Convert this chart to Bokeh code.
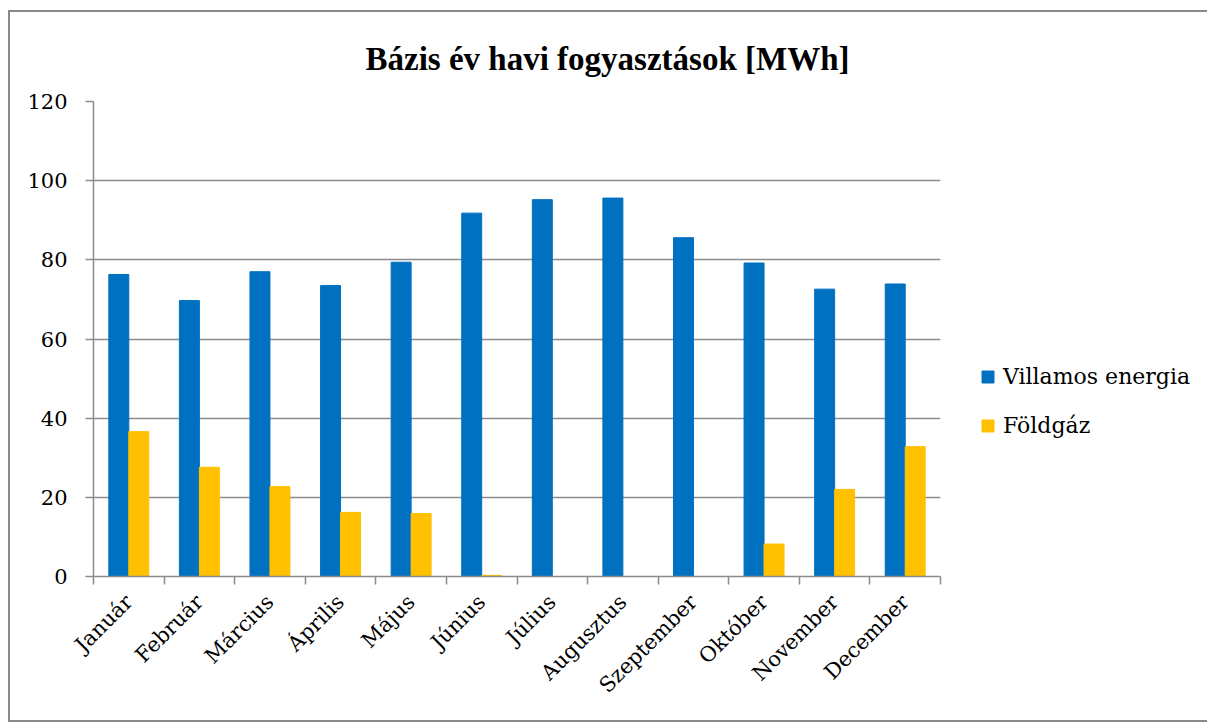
import numpy as np
import pandas as pd
from bokeh.plotting import figure
from bokeh.models import (ColumnDataSource, FixedTicker, Legend, LegendItem, Range1d, Title)
from bokeh.transform import dodge
from bokeh.embed import file_html
from bokeh.resources import INLINE

months = ["Január", "Február", "Március", "Április", "Május", "Június",
          "Július", "Augusztus", "Szeptember", "Október", "November", "December"]
villamos = [76.3, 69.7, 77.0, 73.5, 79.4, 91.8, 95.2, 95.6, 85.6, 79.2, 72.6, 73.9]
foldgaz = [36.6, 27.6, 22.7, 16.2, 15.9, 0.3, 0.0, 0.0, 0.0, 8.2, 22.0, 32.8]
series_names = ["Villamos energia", "Földgáz"]
y_ticks = [0, 20, 40, 60, 80, 100, 120]

df = pd.DataFrame({"month": months, "villamos": villamos, "foldgaz": foldgaz})
df["x"] = np.arange(len(months)) + 0.5
src = ColumnDataSource(df)

TFONT = "Liberation Serif"
FONT = "DejaVu Serif"
GRAY = "#8c8c8c"
BLUE = "#0070C0"
YELLOW = "#FFC000"

p = figure(frame_width=847, frame_height=475, output_backend="svg", toolbar_location=None,
           x_range=Range1d(0, len(months)), y_range=Range1d(0, 120),
           min_border_left=83, min_border_right=262, min_border_top=89, min_border_bottom=144)
p.styles = {"border": "2px solid #8a8a8a", "margin-left": "8px", "margin-top": "10px"}
p.outline_line_color = None
p.background_fill_color = "white"

bw = 0.283
r1 = p.vbar(x=dodge("x", -bw / 2, range=p.x_range), top="villamos", width=bw, source=src,
            fill_color=BLUE, line_color=BLUE)
r2 = p.vbar(x=dodge("x", bw / 2, range=p.x_range), top="foldgaz", width=bw, source=src,
            fill_color=YELLOW, line_color=YELLOW)

t = Title(text="Bázis év havi fogyasztások [MWh]", align="left", offset=272, standoff=50,
          text_font=TFONT, text_font_size="33px", text_font_style="bold", text_color="black")
p.add_layout(t, "above")

# x axis
p.xaxis.ticker = FixedTicker(ticks=list(df["x"]), minor_ticks=list(range(len(months) + 1)))
p.xaxis.major_label_overrides = {float(x): m for x, m in zip(df["x"], months)}
p.xaxis.major_label_orientation = np.pi / 4
p.xaxis.major_tick_line_color = None
p.xaxis.minor_tick_line_color = GRAY
p.xaxis.minor_tick_line_width = 1.5
p.xaxis.minor_tick_out = 8
p.xaxis.minor_tick_in = 0
p.xaxis.axis_line_color = GRAY
p.xaxis.axis_line_width = 1.5
p.xaxis.major_label_text_font = FONT
p.xaxis.major_label_text_font_size = "21px"
p.xaxis.major_label_text_color = "black"
p.xaxis.major_label_standoff = 14

# y axis
p.yaxis.ticker = FixedTicker(ticks=y_ticks)
p.yaxis.axis_line_color = GRAY
p.yaxis.axis_line_width = 1.5
p.yaxis.major_tick_line_color = GRAY
p.yaxis.major_tick_line_width = 1.5
p.yaxis.major_tick_out = 8
p.yaxis.major_tick_in = 0
p.yaxis.minor_tick_line_color = None
p.yaxis.major_label_text_font = FONT
p.yaxis.major_label_text_font_size = "21px"
p.yaxis.major_label_text_color = "black"
p.yaxis.major_label_standoff = 18

p.xgrid.grid_line_color = None
p.ygrid.ticker = FixedTicker(ticks=y_ticks)
p.ygrid.grid_line_color = GRAY
p.ygrid.grid_line_width = 1.5

legend = Legend(items=[LegendItem(label=series_names[0], renderers=[r1]),
                       LegendItem(label=series_names[1], renderers=[r2])],
                location=(40, 138), orientation="vertical",
                border_line_color=None, background_fill_alpha=0,
                glyph_width=15, glyph_height=15, label_standoff=8, spacing=24,
                padding=0, margin=0,
                label_text_font=FONT, label_text_font_size="22px", label_text_color="black")
p.add_layout(legend, "right")

open("out.html", "w").write(file_html(p, INLINE))
